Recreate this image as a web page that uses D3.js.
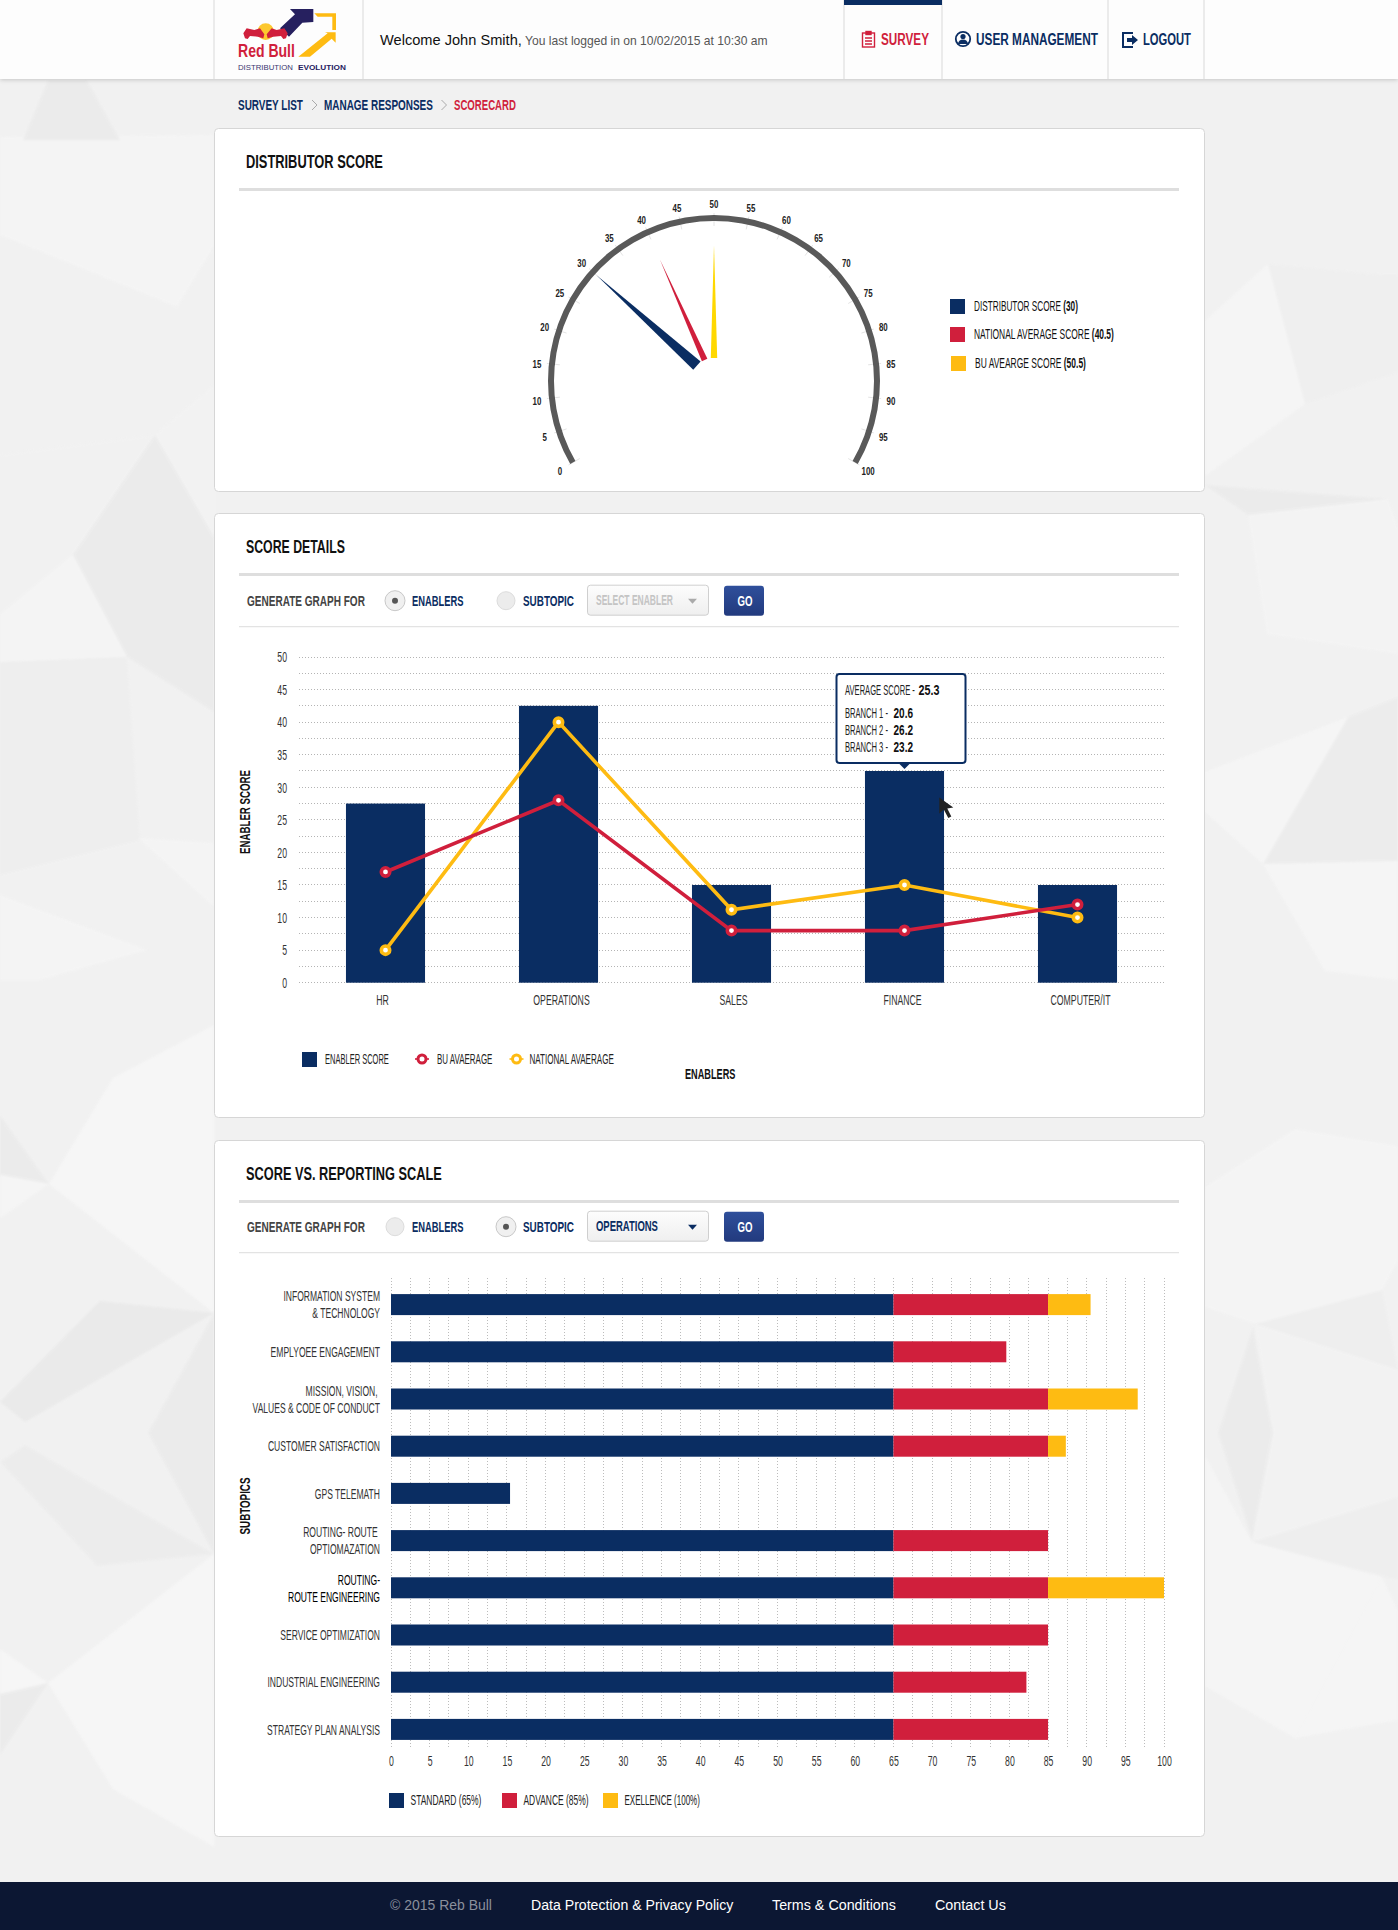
<!DOCTYPE html>
<html>
<head>
<meta charset="utf-8">
<title>Scorecard</title>
<script src="https://cdn.jsdelivr.net/npm/d3@7"></script>
<style>
  html, body { margin: 0; padding: 0; background: #f1f1f1; }
  svg { display: block; }
  text { font-family: 'Liberation Sans Narrow', 'Liberation Sans', sans-serif; }
</style>
</head>
<body>
<svg id="page" width="1398" height="1930"></svg>
<script>
// Gauge
const gaugeTicks = d3.range(0, 101, 5);
const gaugeNames = ['DISTRIBUTOR SCORE', 'NATIONAL AVERAGE SCORE', 'BU AVEARGE SCORE'];
const gaugeValues = [30, 40.5, 50.5];
const needleValues = [30, 40, 50];

// Score details
const enablers = ['HR', 'OPERATIONS', 'SALES', 'FINANCE', 'COMPUTER/IT'];
const enablerScore = [27.5, 42.5, 15, 32.5, 15];
const buAverage = [17, 28, 8, 8, 12];
const nationalAverage = [5, 40, 11.2, 15, 10];
const scoreTicks = d3.range(0, 51, 5);
const scoreGrid = d3.range(0, 50.1, 2.5);
const branchNames = ['BRANCH 1', 'BRANCH 2', 'BRANCH 3'];
const branchScores = [20.6, 26.2, 23.2];
const averageScore = 25.3;

// Score vs. reporting scale
const subtopics = [
  ['INFORMATION SYSTEM', '& TECHNOLOGY'],
  ['EMPLYOEE ENGAGEMENT'],
  ['MISSION, VISION,\u00a0', 'VALUES & CODE OF CONDUCT'],
  ['CUSTOMER SATISFACTION'],
  ['GPS TELEMATH'],
  ['ROUTING- ROUTE\u00a0', 'OPTIOMAZATION'],
  ['ROUTING-', 'ROUTE ENGINEERING'],
  ['SERVICE OPTIMIZATION'],
  ['INDUSTRIAL ENGINEERING'],
  ['STRATEGY PLAN ANALYSIS']
];
const standardPart = [65, 65, 65, 65, 15.4, 65, 65, 65, 65, 65];
const advancePart = [20, 14.6, 20, 20, 0, 20, 20, 20, 17.2, 20];
const excellencePart = [5.5, 0, 11.6, 2.3, 0, 0, 15, 0, 0, 0];
const scaleKeys = ['standard', 'advance', 'excellence'];
const scaleLegend = ['STANDARD (65%)', 'ADVANCE (85%)', 'EXELLENCE (100%)'];
const scaleTicks = d3.range(0, 101, 5);
const scaleGrid = d3.range(0, 100.1, 2.5);

// Faint low-poly wallpaper behind the cards
const bgFacets = [
  ['#f5f5f5', '0,137 214,135 214,246 177,307 0,235'],
  ['#ebebeb', '48,80 87,80 120,140 23,140'],
  ['#f3f3f3', '155,435 214,385 214,537'],
  ['#f2f2f2', '0,455 155,435 73,555 0,615'],
  ['#ebebeb', '155,435 214,537 214,712 127,657 73,555'],
  ['#f5f5f5', '0,615 73,555 127,657 0,662'],
  ['#eeeeee', '0,662 127,657 140,840 0,875'],
  ['#f5f5f5', '138,838 214,843 214,907'],
  ['#f5f5f5', '0,895 147,950 40,980 0,980'],
  ['#f7f7f7', '113,1078 214,1025 214,1313 49,1184'],
  ['#ebebeb', '0,1115 49,1184 0,1175'],
  ['#f6f6f6', '0,1175 49,1184 0,1218'],
  ['#e9e9e9', '100,1301 214,1313 25,1422 0,1402'],
  ['#ebebeb', '214,1313 148,1433 214,1554'],
  ['#ececec', '25,1445 214,1554 97,1566 0,1462'],
  ['#f7f7f7', '214,1554 214,1847 113,1789 48,1683'],
  ['#f7f7f7', '0,1649 48,1683 0,1694'],
  ['#ebebeb', '0,1694 48,1683 0,1755'],
  ['#f6f6f6', '1205,321 1268,264 1305,404 1205,476'],
  ['#efefef', '1268,264 1382,275 1398,275 1398,372 1305,404'],
  ['#ebebeb', '1205,485 1388,499 1248,515'],
  ['#f4f4f4', '1248,515 1388,499 1398,528 1398,654 1267,634'],
  ['#ececec', '1348,717 1398,697 1398,861 1263,864'],
  ['#f6f6f6', '1205,772 1348,717 1263,864 1205,812'],
  ['#f6f6f6', '1263,864 1398,861 1398,980 1325,971'],
  ['#f5f5f5', '1295,1129 1398,1146 1398,1261 1382,1290 1255,1324 1205,1307 1205,1187'],
  ['#eeeeee', '1255,1324 1382,1290 1398,1370'],
  ['#f3f3f3', '1255,1324 1398,1370 1398,1497 1252,1542 1273,1433'],
  ['#ebebeb', '1253,1327 1273,1433 1252,1540 1218,1433'],
  ['#eeeeee', '1252,1542 1398,1497 1398,1580'],
  ['#f6f6f6', '1205,1456 1252,1542 1382,1577 1295,1738 1205,1686'],
  ['#f6f6f6', '1382,1577 1398,1611 1398,1720 1295,1738']
];

const NAVY = '#0a2d62', RED = '#d01f3c', GOLD = '#febb12', NEEDLE_GOLD = '#ffd800';
const TICK_FONT = "'Liberation Sans Narrow','Liberation Sans',sans-serif";

const svg = d3.select('#page');
const defs = svg.append('defs');
defs.append('filter').attr('id', 'soft').attr('x', '-5%').attr('y', '-20%').attr('width', '110%').attr('height', '140%')
  .append('feDropShadow').attr('dx', 0).attr('dy', 1).attr('stdDeviation', 2).attr('flood-color', '#000').attr('flood-opacity', 0.18);
defs.append('filter').attr('id', 'haze').append('feGaussianBlur').attr('stdDeviation', 1.2);
const goGrad = defs.append('linearGradient').attr('id', 'goGrad').attr('x1', 0).attr('x2', 0).attr('y1', 0).attr('y2', 1);
goGrad.append('stop').attr('offset', 0).attr('stop-color', '#2f4f9b');
goGrad.append('stop').attr('offset', 1).attr('stop-color', '#223a7e');
const selGrad = defs.append('linearGradient').attr('id', 'selGrad').attr('x1', 0).attr('x2', 0).attr('y1', 0).attr('y2', 1);
selGrad.append('stop').attr('offset', 0).attr('stop-color', '#fdfdfd');
selGrad.append('stop').attr('offset', 1).attr('stop-color', '#efefef');

// text helper: w squeezes the text to an exact width, sx is a fixed squeeze
function put(parent, str, x, y, o = {}) {
  const t = parent.append('text')
    .attr('text-anchor', o.anchor || 'start')
    .attr('dy', '.35em')
    .attr('font-size', o.size || 15)
    .attr('font-weight', o.weight || 'normal')
    .attr('fill', o.fill || '#333');
  if (o.family) t.style('font-family', o.family);
  const pieces = Array.isArray(str) ? str : [[str, o.weight || 'normal']];
  pieces.forEach(p => t.append('tspan').attr('font-weight', p[1]).text(p[0]));
  const sx = o.w ? o.w / t.node().getComputedTextLength() : (o.sx || 1);
  t.attr('transform', `translate(${x},${y}) rotate(${o.rotate || 0}) scale(${sx},1)`);
  return t;
}

// wallpaper
svg.append('rect').attr('width', 1398).attr('height', 1930).attr('fill', '#f1f1f1');
svg.append('g').attr('filter', 'url(#haze)').attr('opacity', 0.85)
  .selectAll('polygon').data(bgFacets).join('polygon')
  .attr('points', d => d[1]).attr('fill', d => d[0]);

// header
svg.append('rect').attr('width', 1398).attr('height', 79).attr('fill', '#fdfdfd').attr('filter', 'url(#soft)');
svg.append('g').selectAll('line').data([214, 363, 844, 942, 1108, 1204]).join('line')
  .attr('x1', d => d).attr('x2', d => d).attr('y1', 0).attr('y2', 79)
  .attr('stroke', '#d9d9d9');
svg.append('rect').attr('x', 844).attr('width', 98).attr('height', 5).attr('fill', NAVY);

// logo, drawn in the 3x space it was measured in
const logo = svg.append('g').attr('transform', 'translate(215,0) scale(0.3333)');
logo.append('polygon').attr('fill', '#26205f').attr('points', '225,27 295,27 295,66 262,68 222,110 195,85 240,43');
logo.append('polygon').attr('fill', GOLD).attr('points', '298,40 363,40 363,90 352,90 352,50 308,50');
logo.append('polygon').attr('fill', GOLD).attr('points', '362,97 362,128 350,116 285,170 250,170 338,100 330,97');
logo.append('circle').attr('cx', 152).attr('cy', 95).attr('r', 25).attr('fill', '#fdc82f');
logo.append('polygon').attr('fill', RED).attr('points', '85,100 95,85 118,90 135,85 148,103 145,115 128,110 105,108 98,117 90,115');
logo.append('polygon').attr('fill', RED).attr('points', '218,100 208,85 185,90 170,85 155,103 158,115 175,110 198,108 205,117 213,115');
put(svg, 'Red Bull', 238, 51, {w: 57, size: 18, weight: 'bold', fill: RED});
put(svg, 'DISTRIBUTION', 238, 67, {w: 55, size: 7.5, fill: '#3a3570', family: "'Liberation Sans'"});
put(svg, 'EVOLUTION', 298, 67, {w: 48, size: 7.5, weight: 'bold', fill: '#26205f', family: "'Liberation Sans'"});

put(svg, 'Welcome John Smith,', 380, 40, {w: 142, size: 15, fill: '#111', family: "'Liberation Sans'"});
put(svg, 'You last logged in on 10/02/2015 at 10:30 am', 525, 40.5, {w: 243, size: 12.5, fill: '#555', family: "'Liberation Sans'"});

// nav icons and labels
const surveyIcon = svg.append('g').attr('fill', 'none').attr('stroke', RED).attr('stroke-width', 1.4);
surveyIcon.append('rect').attr('x', 862.5).attr('y', 33).attr('width', 12).attr('height', 14);
surveyIcon.append('rect').attr('x', 866).attr('y', 31.5).attr('width', 5).attr('height', 3).attr('fill', RED);
surveyIcon.append('path').attr('d', 'M865 38h7M865 41h7M865 44h7');
put(svg, 'SURVEY', 881, 39, {w: 48, size: 17, weight: 'bold', fill: RED});
const userIcon = svg.append('g').attr('fill', NAVY);
userIcon.append('circle').attr('cx', 963).attr('cy', 39).attr('r', 7.2).attr('fill', 'none').attr('stroke', NAVY).attr('stroke-width', 1.8);
userIcon.append('circle').attr('cx', 963).attr('cy', 36.5).attr('r', 2.6);
userIcon.append('path').attr('d', 'M958 44a5 4.5 0 0 1 10 0z');
put(svg, 'USER MANAGEMENT', 976, 39, {w: 122, size: 17, weight: 'bold', fill: NAVY});
svg.append('path').attr('d', 'M1133 33h-10v14h10').attr('fill', 'none').attr('stroke', NAVY).attr('stroke-width', 2);
svg.append('path').attr('d', 'M1127 38h5v-3l6 5 -6 5v-3h-5z').attr('fill', NAVY);
put(svg, 'LOGOUT', 1143, 39, {w: 48, size: 17, weight: 'bold', fill: NAVY});

// breadcrumb
put(svg, 'SURVEY LIST', 238, 105, {w: 65, size: 15, weight: 'bold', fill: NAVY});
put(svg, 'MANAGE RESPONSES', 324, 105, {w: 109, size: 15, weight: 'bold', fill: NAVY});
put(svg, 'SCORECARD', 454, 105, {w: 62, size: 15, weight: 'bold', fill: RED});
svg.append('path').attr('d', 'M312 100l5 5 -5 5M441.500 100l5 5 -5 5').attr('fill', 'none').attr('stroke', '#aaa');

// cards
function card(top, bottom, title, titleW) {
  svg.append('rect').attr('x', 214.500).attr('y', top + 0.5).attr('width', 990).attr('height', bottom - top)
    .attr('rx', 4).attr('fill', '#fff').attr('stroke', '#d6d6d6');
  put(svg, title, 246, top + 34, {w: titleW, size: 18, weight: 'bold', fill: '#111'});
  svg.append('rect').attr('x', 239).attr('y', top + 60).attr('width', 940).attr('height', 3).attr('fill', '#dedede');
}
card(128, 491, 'DISTRIBUTOR SCORE', 137);
card(513, 1117, 'SCORE DETAILS', 99);
card(1140, 1836, 'SCORE VS. REPORTING SCALE', 196);

function controls(cy, checked, selectText, selectFill, caretFill) {
  put(svg, 'GENERATE GRAPH FOR', 247, cy, {w: 118, size: 15, weight: 'bold', fill: '#444'});
  [[395, 'ENABLERS', 412, 51.5], [506, 'SUBTOPIC', 523, 51]].forEach((r, i) => {
    svg.append('circle').attr('cx', r[0]).attr('cy', cy).attr('r', i === checked ? 10 : 9)
      .attr('fill', i === checked ? '#f0f0f0' : '#ececec').attr('stroke', i === checked ? '#c8c8c8' : '#dcdcdc');
    if (i === checked) svg.append('circle').attr('cx', r[0]).attr('cy', cy).attr('r', 3).attr('fill', '#555');
    put(svg, r[1], r[2], cy, {w: r[3], size: 15, weight: 'bold', fill: NAVY});
  });
  svg.append('rect').attr('x', 587.500).attr('y', cy - 15.5).attr('width', 121).attr('height', 30).attr('rx', 3)
    .attr('fill', 'url(#selGrad)').attr('stroke', '#cfcfcf');
  put(svg, selectText[0], 596, cy - 0.5, {w: selectText[1], size: 15, weight: 'bold', fill: selectFill});
  svg.append('path').attr('d', `M688 ${cy - 2}h9l-4.500 5z`).attr('fill', caretFill);
  svg.append('rect').attr('x', 724).attr('y', cy - 15).attr('width', 40).attr('height', 30).attr('rx', 3).attr('fill', 'url(#goGrad)');
  put(svg, 'GO', 745, cy + 0.5, {anchor: 'middle', w: 15, size: 15, weight: 'bold', fill: '#fff'});
  svg.append('rect').attr('x', 239).attr('y', cy + 25.5).attr('width', 940).attr('height', 1).attr('fill', '#dcdcdc');
}
controls(600.7, 0, ['SELECT ENABLER', 77], '#c4c4c4', '#aaa');
controls(1226.7, 1, ['OPERATIONS', 62], NAVY, NAVY);

// ---- gauge ----
const gaugeX = 714, gaugeY = 381;
const angle = d3.scaleLinear().domain([0, 100]).range([-120, 120]);
const gauge = svg.append('g').attr('transform', `translate(${gaugeX},${gaugeY})`);
const polar = (v, r) => {
  const a = angle(v) * Math.PI / 180;
  return [r * Math.sin(a), -r * Math.cos(a)];
};
gauge.append('g').selectAll('line').data(gaugeTicks).join('line')
  .attr('x1', d => polar(d, 155)[0]).attr('y1', d => polar(d, 155)[1])
  .attr('x2', d => polar(d, 168)[0]).attr('y2', d => polar(d, 168)[1])
  .attr('stroke', '#e4e4e4');
gauge.append('path')
  .attr('d', d3.arc().innerRadius(160).outerRadius(166)
    .startAngle(angle(0) * Math.PI / 180).endAngle(angle(100) * Math.PI / 180)())
  .attr('fill', '#595959');
gaugeTicks.forEach(v => {
  const p = polar(v, 178);
  put(gauge, String(v), p[0], p[1] + 1.5, {anchor: 'middle', size: 11, weight: 'bold', fill: '#222', sx: 0.72});
});
// needles: base ring at r=23, length and width differ per needle
const needleStyle = [[158, 5.5, NAVY], [133, 3, RED], [136, 3.2, NEEDLE_GOLD]];
gauge.append('g').selectAll('polygon').data(needleValues).join('polygon')
  .attr('fill', (d, i) => needleStyle[i][2])
  .attr('points', (d, i) => {
    const [len, half] = needleStyle[i];
    const b = polar(d, 23), tip = polar(d, len);
    const a = angle(d) * Math.PI / 180;
    const nx = Math.cos(a) * half, ny = Math.sin(a) * half;
    return [[b[0] - nx, b[1] - ny], [b[0] + nx, b[1] + ny], tip].join(' ');
  });
// gauge legend
const gaugeLegendFill = [NAVY, RED, GOLD];
const gaugeLegendY = [306.5, 334.5, 363.5];
const gaugeLegendX = [950, 950, 951];
const gaugeLegendW = [104, 140, 111];
gaugeNames.forEach((name, i) => {
  svg.append('rect').attr('x', gaugeLegendX[i]).attr('y', gaugeLegendY[i] - 7.5).attr('width', 15).attr('height', 15).attr('fill', gaugeLegendFill[i]);
  put(svg, [[name + ' ', 'normal'], [`(${gaugeValues[i]})`, 'bold']], gaugeLegendX[i] + 24, gaugeLegendY[i],
    {w: gaugeLegendW[i], size: 14, fill: '#111'});
});

// ---- score details ----
const yScore = d3.scaleLinear().domain([0, 50]).range([982.7, 657]);
const xEnabler = d3.scaleBand().domain(enablers).range([299, 1164]).paddingInner(0.543).paddingOuter(0.2715);
const midEnabler = d => xEnabler(d) + xEnabler.bandwidth() / 2;

svg.append('g').attr('shape-rendering', 'crispEdges').selectAll('line').data(scoreGrid).join('line')
  .attr('x1', 299).attr('x2', 1164)
  .attr('y1', d => yScore(d)).attr('y2', d => yScore(d))
  .attr('stroke', '#b4b4b4').attr('stroke-dasharray', '1 2');

svg.append('g').selectAll('rect').data(enablers).join('rect')
  .attr('x', d => xEnabler(d)).attr('width', xEnabler.bandwidth())
  .attr('y', (d, i) => yScore(enablerScore[i]))
  .attr('height', (d, i) => yScore(0) - yScore(enablerScore[i]))
  .attr('fill', NAVY);

const scoreLine = d3.line().x((d, i) => midEnabler(enablers[i])).y(d => yScore(d));
[[nationalAverage, GOLD], [buAverage, RED]].forEach(([vals, colour]) => {
  svg.append('path').attr('d', scoreLine(vals)).attr('fill', 'none').attr('stroke', colour).attr('stroke-width', 3.6);
});
[[buAverage, RED], [nationalAverage, GOLD]].forEach(([vals, colour]) => {
  svg.append('g').selectAll('circle').data(vals).join('circle')
    .attr('cx', (d, i) => midEnabler(enablers[i])).attr('cy', d => yScore(d))
    .attr('r', 4.2).attr('fill', '#fff').attr('stroke', colour).attr('stroke-width', 3.6);
});

const yScoreAxis = svg.append('g').attr('transform', 'translate(287,0)')
  .call(d3.axisLeft(yScore).tickValues(scoreTicks).tickSize(0).tickPadding(0));
const xEnablerAxis = svg.append('g').attr('transform', 'translate(0,994)')
  .call(d3.axisBottom(xEnabler).tickSize(0).tickPadding(0));
const labelNudge = [-3, 3, 2, -2, 3];
[yScoreAxis, xEnablerAxis].forEach(a => {
  a.select('.domain').remove();
  a.selectAll('text').attr('font-size', 15).attr('fill', '#333').attr('transform', 'scale(0.58,1)')
    .style('font-family', TICK_FONT);
});
xEnablerAxis.selectAll('text').attr('x', (d, i) => labelNudge[i] / 0.58);

put(svg, 'ENABLER SCORE', 245, 812, {anchor: 'middle', rotate: -90, w: 84, size: 15, weight: 'bold', fill: '#111'});
put(svg, 'ENABLERS', 685, 1074, {w: 50.5, size: 15, weight: 'bold', fill: '#111'});

// score legend
svg.append('rect').attr('x', 302).attr('y', 1052).attr('width', 15).attr('height', 15).attr('fill', NAVY);
put(svg, 'ENABLER SCORE', 325, 1059, {w: 64, size: 14, fill: '#222'});
[[422, RED, 'BU AVAERAGE', 437, 55.5], [516.5, GOLD, 'NATIONAL AVAERAGE', 529.5, 84.5]].forEach(l => {
  svg.append('line').attr('x1', l[0] - 7).attr('x2', l[0] + 7).attr('y1', 1059).attr('y2', 1059).attr('stroke', l[1]).attr('stroke-width', 1.6);
  svg.append('circle').attr('cx', l[0]).attr('cy', 1059).attr('r', 4).attr('fill', '#fff').attr('stroke', l[1]).attr('stroke-width', 3);
  put(svg, l[2], l[3], 1059, {w: l[4], size: 14, fill: '#222'});
});

// tooltip sits on the finance bar
const tipX = midEnabler('FINANCE'), tipTop = yScore(enablerScore[enablers.indexOf('FINANCE')]);
const tipBox = svg.append('g').attr('transform', `translate(${tipX},${tipTop})`);
tipBox.append('rect').attr('x', -68).attr('y', -97).attr('width', 129).attr('height', 89).attr('rx', 3)
  .attr('fill', '#fff').attr('stroke', NAVY).attr('stroke-width', 2);
tipBox.append('path').attr('d', 'M-6 -8h12l-6 6z').attr('fill', NAVY);
put(tipBox, 'AVERAGE SCORE - ', -59.5, -80.5, {w: 70, size: 14, fill: '#222'});
put(tipBox, String(averageScore), 14, -80.5, {w: 21, size: 14, weight: 'bold', fill: '#111'});
branchNames.forEach((b, i) => {
  const rowY = -57.5 + i * 17;
  put(tipBox, b + ' -', -59.5, rowY, {w: 43, size: 14, fill: '#222'});
  put(tipBox, branchScores[i].toFixed(1), -11, rowY, {w: 19.5, size: 14, weight: 'bold', fill: '#111'});
});
// mouse pointer left in the screenshot
svg.append('path').attr('transform', 'translate(939.3,797.5)')
  .attr('d', 'M0 0v16l4.500 -4 4.500 8.500 3 -1.500 -4 -8 6 -1z').attr('fill', '#222');

// ---- reporting scale ----
const xScale = d3.scaleLinear().domain([0, 100]).range([391, 1164]);
const ySub = d3.scaleBand().domain(d3.range(subtopics.length)).range([1281, 1753]).paddingInner(0.555).paddingOuter(0.2775);

svg.append('g').attr('shape-rendering', 'crispEdges').selectAll('line').data(scaleGrid).join('line')
  .attr('x1', d => xScale(d)).attr('x2', d => xScale(d))
  .attr('y1', 1278).attr('y2', 1747)
  .attr('stroke', '#bcbcbc').attr('stroke-dasharray', '1 2');

const scaleRows = subtopics.map((s, i) => ({standard: standardPart[i], advance: advancePart[i], excellence: excellencePart[i], row: i}));
const scaleStack = d3.stack().keys(scaleKeys)(scaleRows);
const scaleColour = d3.scaleOrdinal().domain(scaleKeys).range([NAVY, RED, GOLD]);
svg.append('g').selectAll('g').data(scaleStack).join('g')
  .attr('fill', d => scaleColour(d.key))
  .selectAll('rect').data(d => d).join('rect')
  .attr('x', d => xScale(d[0])).attr('width', d => xScale(d[1]) - xScale(d[0]))
  .attr('y', d => ySub(d.data.row)).attr('height', ySub.bandwidth());

const xScaleAxis = svg.append('g').attr('transform', 'translate(0,1755)')
  .call(d3.axisBottom(xScale).tickValues(scaleTicks).tickSize(0).tickPadding(0));
xScaleAxis.select('.domain').remove();
xScaleAxis.selectAll('text').attr('font-size', 15).attr('fill', '#333').attr('transform', 'scale(0.58,1)')
  .style('font-family', TICK_FONT);

subtopics.forEach((lines, i) => {
  const mid = ySub(i) + ySub.bandwidth() / 2;
  lines.forEach((line, k) => {
    put(svg, line, 380, mid + (k - (lines.length - 1) / 2) * 17, {anchor: 'end', size: 15, sx: 0.57, fill: i === 6 ? '#000' : '#333'});
  });
});
put(svg, 'SUBTOPICS', 245, 1506, {anchor: 'middle', rotate: -90, w: 57, size: 15, weight: 'bold', fill: '#111'});

const scaleLegendX = [389, 502, 603];
const scaleLegendW = [71, 65, 75.5];
scaleKeys.forEach((k, i) => {
  svg.append('rect').attr('x', scaleLegendX[i]).attr('y', 1793).attr('width', 15).attr('height', 15).attr('fill', scaleColour(k));
  put(svg, scaleLegend[i], scaleLegendX[i] + 21.5, 1800.5, {w: scaleLegendW[i], size: 14, fill: '#222'});
});

// footer
svg.append('rect').attr('y', 1882).attr('width', 1398).attr('height', 48).attr('fill', '#0c1733');
[['\u00a9 2015 Reb Bull', 390, 102, '#8a8f9c'], ['Data Protection & Privacy Policy', 531, 202.500, '#fff'],
 ['Terms & Conditions', 772, 124, '#fff'], ['Contact Us', 935, 71, '#fff']].forEach(f => {
  put(svg, f[0], f[1], 1904.5, {w: f[2], size: 14.5, fill: f[3], family: "'Liberation Sans'"});
});
</script>
</body>
</html>
